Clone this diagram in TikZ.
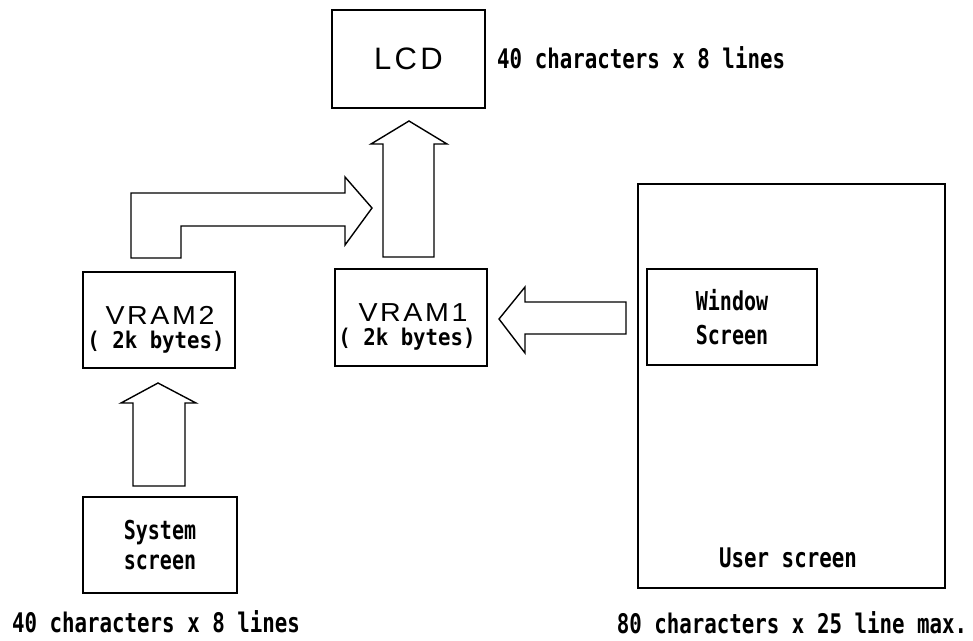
\documentclass[tikz,border=0pt]{standalone}
\usepackage{fontspec}
\newfontfamily\labfont[FakeStretch=0.77]{DejaVu Sans Mono Bold}
\newfontfamily\bytefont[FakeStretch=0.9]{DejaVu Sans Mono Bold}
\newfontfamily\boxfont{Liberation Sans}
\newfontfamily\vramfont[FakeStretch=1.1, LetterSpace=10]{Liberation Sans}
\usetikzlibrary{positioning}

\tikzset{
  box/.style={draw, line width=1.4pt, inner sep=0pt, align=center},
  note/.style={inner sep=0pt, anchor=base, font=\labfont\fontsize{27}{30}\selectfont},
  vramname/.style={inner sep=0pt, anchor=base, font=\vramfont\fontsize{26}{26}\selectfont},
  vramsize/.style={inner sep=0pt, anchor=base, font=\bytefont\fontsize{23}{23}\selectfont},
  blockarrow/.style={draw, line width=1.4pt, line join=miter}
}

\begin{document}
\begin{tikzpicture}[x=1pt, y=-1pt]
  \useasboundingbox (0,0) rectangle (973,640);

  % display and memories
  \node[box, minimum width=153pt, minimum height=98pt,
        font={\boxfont\addfontfeature{LetterSpace=11}\fontsize{31}{36}\selectfont}]
        (lcd) at (408.5,59) {LCD};
  \node[note, anchor=base west] (lcdsize) at (497,68) {40 characters x 8 lines};

  \node[box, minimum width=152pt, minimum height=96pt] (vram2) at (159,320) {};
  \node[vramname] (vram2name) at (160,324) {VRAM2};
  \node[vramsize] (vram2size) at (156,348) {( 2k bytes)};

  \node[box, minimum width=152pt, minimum height=97pt] (vram1) at (411,317.5) {};
  \node[vramname] (vram1name) at (413,321) {VRAM1};
  \node[vramsize] (vram1size) at (407,345) {( 2k bytes)};

  \node[box, minimum width=154pt, minimum height=96pt,
        font={\labfont\fontsize{26}{30}\selectfont}]
        (system) at (160,545) {System\\screen};
  \node[note] (syssize) at (156,632) {40 characters x 8 lines};

  % user screen with its window
  \node[box, minimum width=307pt, minimum height=404pt] (user) at (791.5,386) {};
  \node[box, minimum width=170pt, minimum height=96pt,
        font={\labfont\fontsize{26}{34}\selectfont}]
        (window) at (732,317) {Window\\Screen};
  \node[note] (userlabel) at (788,567) {User screen};
  \node[note] (usersize) at (792,633) {80 characters x 25 line max.};

  % block arrows
  \draw[blockarrow] (383,257) -- (383,144) -- (371,144) -- (409,121)
    -- (447,144) -- (434,144) -- (434,257) -- cycle;
  \draw[blockarrow] (133,486) -- (133,403) -- (121,403) -- (158,383)
    -- (196,403) -- (185,403) -- (185,486) -- cycle;
  \draw[blockarrow] (626,302) -- (525,302) -- (525,287) -- (499,319)
    -- (525,353) -- (525,334) -- (626,334) -- cycle;
  \draw[blockarrow] (131,258) -- (131,193) -- (345,193) -- (345,177)
    -- (372,208) -- (345,245) -- (345,226) -- (181,226) -- (181,258) -- cycle;
\end{tikzpicture}
\end{document}
